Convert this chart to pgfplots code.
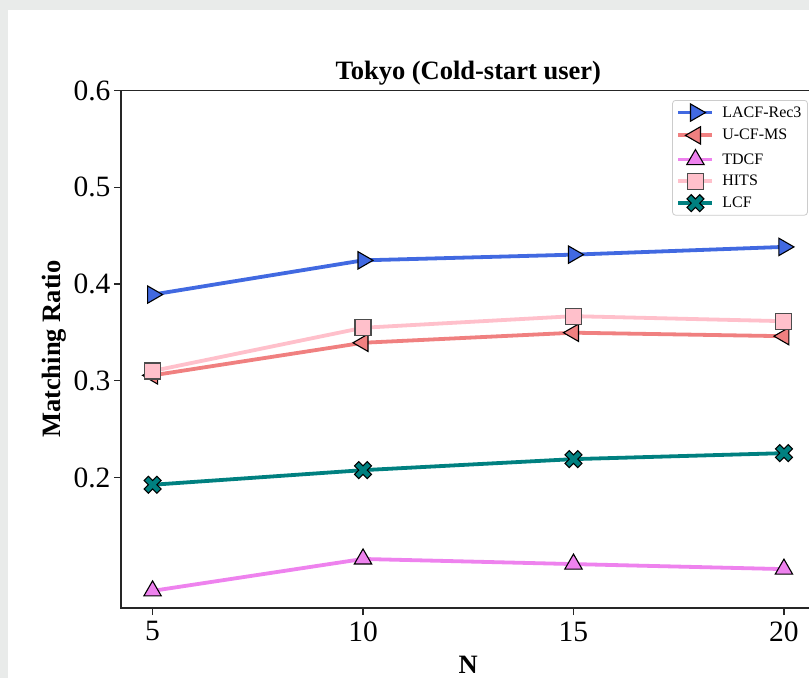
\documentclass[border=0pt]{standalone}
\usepackage{fontspec}
\setmainfont{Liberation Serif}
\usepackage{pgfplots}
\pgfplotsset{compat=1.18}

\definecolor{cBlue}{HTML}{4169E1}
\definecolor{cCoral}{HTML}{F08080}
\definecolor{cViolet}{HTML}{EE82EE}
\definecolor{cPink}{HTML}{FFC0CB}
\definecolor{cTeal}{HTML}{008080}
\definecolor{frameGray}{HTML}{E9EBEA}

% filled "X" marker: a plus sign with thick arms, turned by 45 degrees
\pgfdeclareplotmark{Xfill}{%
  \pgftransformrotate{45}%
  \pgfmathsetlengthmacro\xmR{\pgfplotmarksize}%
  \pgfmathsetlengthmacro\xmA{\pgfplotmarksize/3}%
  \pgfpathmoveto{\pgfqpoint{\xmA}{\xmR}}%
  \pgfpathlineto{\pgfqpoint{\xmA}{\xmA}}%
  \pgfpathlineto{\pgfqpoint{\xmR}{\xmA}}%
  \pgfpathlineto{\pgfqpoint{\xmR}{-\xmA}}%
  \pgfpathlineto{\pgfqpoint{\xmA}{-\xmA}}%
  \pgfpathlineto{\pgfqpoint{\xmA}{-\xmR}}%
  \pgfpathlineto{\pgfqpoint{-\xmA}{-\xmR}}%
  \pgfpathlineto{\pgfqpoint{-\xmA}{-\xmA}}%
  \pgfpathlineto{\pgfqpoint{-\xmR}{-\xmA}}%
  \pgfpathlineto{\pgfqpoint{-\xmR}{\xmA}}%
  \pgfpathlineto{\pgfqpoint{-\xmA}{\xmA}}%
  \pgfpathlineto{\pgfqpoint{-\xmA}{\xmR}}%
  \pgfpathclose
  \pgfusepathqfillstroke
}

\pgfplotstableread{
N  lacf    ucf     tdcf    hits    lcf
5  0.389   0.3055  0.0827  0.310   0.1924
10 0.4244  0.3392  0.1157  0.3547  0.2075
15 0.4303  0.3496  0.1104  0.3667  0.2189
20 0.4383  0.3460  0.1052  0.3615  0.2251
}\results

\begin{document}
\begin{tikzpicture}
  % page background with a light frame on the top and left
  \fill[frameGray] (0pt,0pt) rectangle (809pt,678pt);
  \fill[white] (8pt,0pt) rectangle (809pt,668pt);

  \begin{axis}[
    at={(121pt,70pt)}, anchor=south west,
    width=694.5pt, height=517.5pt, scale only axis,
    xmin=4.25, xmax=20.75, ymin=0.065, ymax=0.6,
    xtick={5,10,15,20},
    ytick={0.2,0.3,0.4,0.5,0.6},
    yticklabel style={/pgf/number format/.cd, fixed, fixed zerofill, precision=1},
    xticklabel style={yshift=-3pt},
    /pgf/number format/assume math mode=true,
    tick pos=left, tick align=outside,
    major tick length=7pt,
    tick style={black!85, line width=1.3pt},
    axis line style={black!85, line width=1.6pt},
    ticklabel style={font=\fontsize{29.5}{33}\selectfont},
    every axis title shift=0pt,
    title={Tokyo (Cold-start user)},
    title style={font=\fontsize{26.5}{30}\selectfont\bfseries,
      at={(axis description cs:0.5,1)}, anchor=base, yshift=11pt},
    xlabel={N},
    xlabel style={font=\fontsize{26.5}{30}\selectfont\bfseries,
      at={(axis description cs:0.5,0)}, anchor=base, yshift=-65pt},
    ylabel={Matching Ratio},
    ylabel style={font=\fontsize{26.5}{30}\selectfont\bfseries,
      at={(axis description cs:-0.0864,0.5)}, anchor=base},
    legend style={at={(axis description cs:0.989,0.9816)}, anchor=north east,
      draw=black!20, line width=0.8pt, rounded corners=3pt, fill=white,
      font=\fontsize{16}{19}\selectfont,
      inner xsep=4pt, inner ysep=3.5pt,
      row sep=5.5pt,
      /tikz/every odd column/.append style={column sep=6pt}},
    legend cell align=left,
    legend image code/.code={%
      \draw[mark repeat=2, mark phase=2, #1]
        plot coordinates {(0pt,0pt) (17pt,0pt) (34pt,0pt)};},
    every axis plot/.append style={line width=3.8pt},
  ]
    \addplot[cBlue, mark=triangle*, mark size=10pt,
      mark options={rotate=-90, fill=cBlue, draw=black, line width=1.1pt}]
      table[x=N, y=lacf] {\results};
    \addlegendentry{LACF-Rec3}
    \addplot[cCoral, mark=triangle*, mark size=10pt,
      mark options={rotate=90, fill=cCoral, draw=black, line width=1.1pt}]
      table[x=N, y=ucf] {\results};
    \addlegendentry{U-CF-MS}
    \addplot[cViolet, mark=triangle*, mark size=10pt,
      mark options={fill=cViolet, draw=black, line width=1.1pt}]
      table[x=N, y=tdcf] {\results};
    \addlegendentry{TDCF}
    \addplot[cPink, mark=square*, mark size=8pt,
      mark options={fill=cPink, draw=black!70, line width=1.1pt}]
      table[x=N, y=hits] {\results};
    \addlegendentry{HITS}
    \addplot[cTeal, mark=Xfill, mark size=9pt,
      mark options={fill=cTeal, draw=black, line width=1.1pt}]
      table[x=N, y=lcf] {\results};
    \addlegendentry{LCF}
  \end{axis}

  \pgfresetboundingbox
  \path (0pt,0pt) rectangle (809pt,678pt);
\end{tikzpicture}
\end{document}
